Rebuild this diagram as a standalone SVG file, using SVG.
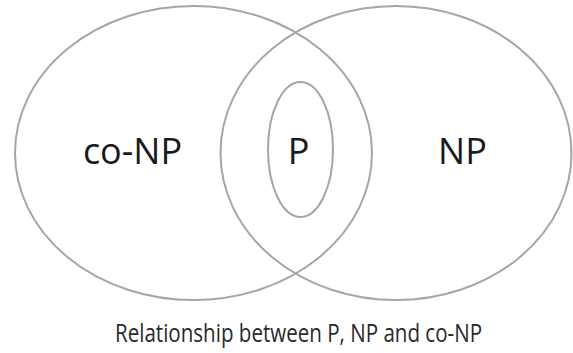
<svg xmlns="http://www.w3.org/2000/svg" width="573" height="353" viewBox="0 0 573 353">
<style>
.set{fill:none;stroke:#a6a6a6;stroke-width:2}
.lbl{font-family:"Open Sans","DejaVu Sans",sans-serif;font-size:36px;fill:#1a1a1a;text-anchor:middle}
.cap{font-family:"Open Sans","DejaVu Sans",sans-serif;font-size:25px;fill:#2a2a2a;text-anchor:middle}
</style>
<rect width="573" height="353" fill="#ffffff"/>
<g id="coNP">
<ellipse class="set" cx="193.5" cy="153" rx="178.5" ry="147"/>
<text class="lbl" x="132.5" y="164">co-NP</text>
</g>
<g id="NP">
<ellipse class="set" cx="396" cy="153" rx="175.5" ry="147"/>
<text class="lbl" x="462.5" y="164">NP</text>
</g>
<g id="P">
<ellipse class="set" cx="300.5" cy="149.5" rx="32.5" ry="67.5"/>
<text class="lbl" x="298.5" y="164">P</text>
</g>
<g id="connectors"></g>
<text id="caption" class="cap" x="298.5" y="342" textLength="367" lengthAdjust="spacingAndGlyphs">Relationship between P, NP and co-NP</text>
</svg>
